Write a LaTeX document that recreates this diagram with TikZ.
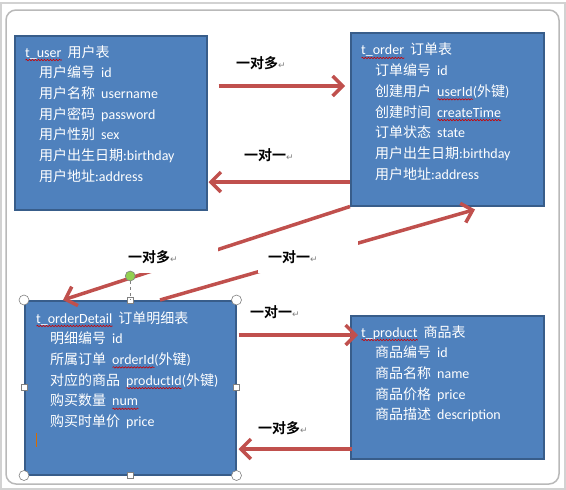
\documentclass[tikz,border=0pt]{standalone}
\usepackage{fontspec}
\setmainfont{Carlito}
\newfontfamily\cjk{Noto Sans CJK SC}[BoldFont={Noto Sans CJK SC Bold}]
\newfontfamily\symb{DejaVu Sans}
\definecolor{boxblue}{RGB}{79, 129, 189}
\definecolor{boxedge}{RGB}{56, 93, 138}
\definecolor{relred}{RGB}{192, 80, 77}
\definecolor{handlegreen}{RGB}{146, 208, 80}
\usetikzlibrary{arrows.meta,decorations.pathmorphing}
\newcommand\spellwave[1]{\setbox0\hbox{#1}\rlap{\tikz[baseline=0pt]\draw[red!80!black, line width=0.6pt, decorate, decoration={snake, amplitude=0.7pt, segment length=3pt}] (0pt,-3pt) -- (\wd0,-3pt);}\box0}
\newcommand\zh[1]{{\cjk #1}}
\newcommand\ind{\hspace*{14pt}}
\newcommand\gap{\hspace{6pt}}
\newcommand\retmark{{\symb\mdseries\fontsize{9}{9}\selectfont\textcolor{gray}{↵}}}

\begin{document}
\begin{tikzpicture}[
                    x=1pt,
                    y=-1pt,
                    tablebox/.style args={#1x#2}{
                        draw=boxedge,
                        line width=1.5pt,
                        fill=boxblue,
                        anchor=north west,
                        minimum width=#1pt,
                        minimum height=#2pt
                    },
                    tabletext/.style={
                        anchor=north west,
                        align=left,
                        text=white,
                        inner sep=0pt,
                        font=\fontsize{14}{20.7}\selectfont
                    },
                    relarrow/.style={
                        draw=relred,
                        line width=3.5pt,
                        -{Straight Barb[length=10pt,width=20pt]}
                    },
                    rellabel/.style={
                        fill=white,
                        inner sep=1pt,
                        anchor=west,
                        font=\fontsize{14}{16}\selectfont\cjk\bfseries
                    },
                    labelpad/.style={
                        text width=80pt,
                        inner xsep=10pt,
                        minimum height=32pt
                    },
                    handlecircle/.style={
                        draw=gray,
                        fill=white,
                        line width=0.6pt
                    },
                    handlesquare/.style={
                        draw=gray,
                        fill=white,
                        inner sep=0pt,
                        minimum size=6pt,
                        line width=0.6pt
                    },
                    rothandle/.style={
                        circle,
                        draw=gray,
                        fill=handlegreen,
                        inner sep=0pt,
                        minimum size=10pt,
                        line width=0.6pt
                    }
                ]
    \useasboundingbox (0,0) rectangle (566,490);
    \draw[gray!35, line width=1.2pt] (1,3) rectangle (565,489);
    \draw[gray!55, line width=1.5pt, rounded corners=10pt] (6,10) rectangle (559,484);

    \node[tablebox=192x174] (userbox) at (14,35) {};
    \node[tablebox=193x173] (orderbox) at (350,32) {};
    \node[tablebox=211x174] (detailbox) at (24,300) {};
    \node[tablebox=193x143] (productbox) at (350,315) {};

    \node[tabletext] (usertext) at ([shift={(11,10)}]userbox.north west) {
        \spellwave{t\_user}\gap\zh{用户表}\\
        \ind\zh{用户编号}\gap id\\
        \ind\zh{用户名称}\gap username\\
        \ind\zh{用户密码}\gap password\\
        \ind\zh{用户性别}\gap sex\\
        \ind\zh{用户出生日期}:birthday\\
        \ind\zh{用户地址}:address};
    \node[tabletext] (ordertext) at ([shift={(11,11)}]orderbox.north west) {
        \spellwave{t\_order}\gap\zh{订单表}\\
        \ind\zh{订单编号}\gap id\\
        \ind\zh{创建用户}\gap\spellwave{userId}(\zh{外键})\\
        \ind\zh{创建时间}\gap\spellwave{createTime}\\
        \ind\zh{订单状态}\gap state\\
        \ind\zh{用户出生日期}:birthday\\
        \ind\zh{用户地址}:address};
    \node[tabletext] (detailtext) at ([shift={(12,11)}]detailbox.north west) {
        \spellwave{t\_orderDetail}\gap\zh{订单明细表}\\
        \ind\zh{明细编号}\gap id\\
        \ind\zh{所属订单}\gap\spellwave{orderId}(\zh{外键})\\
        \ind\zh{对应的商品}\gap\spellwave{productId}(\zh{外键})\\
        \ind\zh{购买数量}\gap\spellwave{num}\\
        \ind\zh{购买时单价}\gap price};
    \node[tabletext] (producttext) at ([shift={(11,10)}]productbox.north west) {
        \spellwave{t\_product}\gap\zh{商品表}\\
        \ind\zh{商品编号}\gap id\\
        \ind\zh{商品名称}\gap name\\
        \ind\zh{商品价格}\gap price\\
        \ind\zh{商品描述}\gap description};
    \draw[orange!85!black, line width=1pt] ([shift={(12,133)}]detailbox.north west) -- ++(0,14);

    \draw[relarrow] ([shift={(11,51)}]userbox.north east) -- ([shift={(-5,54)}]orderbox.north west);
    \draw[relarrow] ([shift={(0,150)}]orderbox.north west) -- ([shift={(1,147)}]userbox.north east);
    \draw[relarrow] (orderbox.south west) -- ([shift={(39,0)}]detailbox.north west);
    \draw[relarrow] ([shift={(136,0)}]detailbox.north west) -- ([shift={(125,3)}]orderbox.south west);
    \draw[relarrow] ([shift={(2,35)}]detailbox.north east) -- ([shift={(8,20)}]productbox.north west);
    \draw[relarrow] ([shift={(2,134)}]productbox.north west) -- ([shift={(2,149)}]detailbox.north east);

    \node[rellabel] (label1) at (235,63) {一对多\retmark};
    \node[rellabel] (label2) at (243,155) {一对一\retmark};
    \node[rellabel, labelpad] (label3) at (118,257) {一对多\retmark};
    \node[rellabel, labelpad] (label4) at (258,257) {一对一\retmark};
    \node[rellabel] (label5) at (249,312) {一对一\retmark};
    \node[rellabel] (label6) at (257,428) {一对多\retmark};

    \foreach \corner in {north west, north east, south west, south east}
        \draw[handlecircle] (detailbox.\corner) circle (5);
    \foreach \side in {north, south, east, west}
        \node[handlesquare] at (detailbox.\side) {};
    \node[rothandle] (rotate) at ([shift={(0,-24)}]detailbox.north) {};
    \draw[gray, dashed, line width=0.6pt] (rotate) -- (detailbox.north);
\end{tikzpicture}
\end{document}
